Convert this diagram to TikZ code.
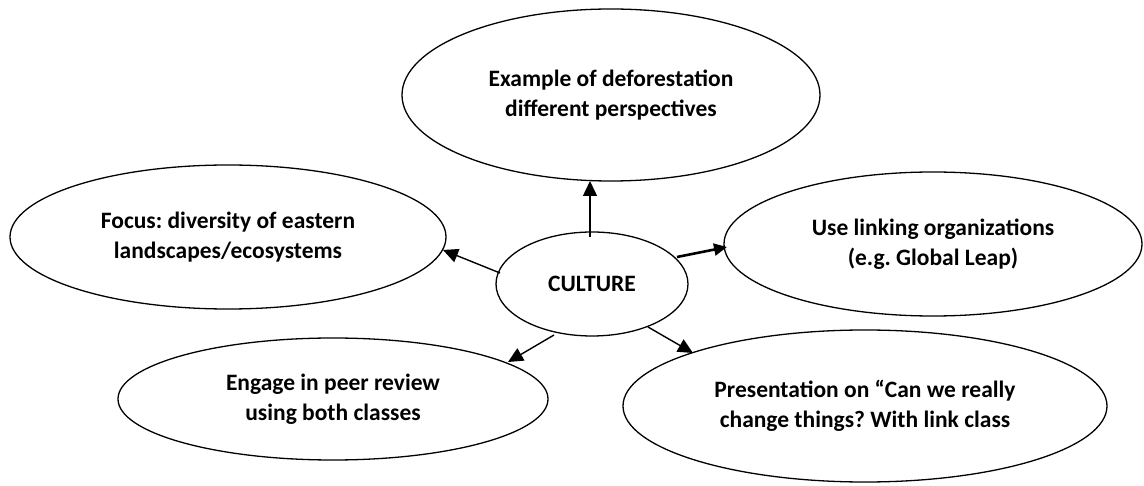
\documentclass[tikz,border=0pt]{standalone}
\usepackage{fontspec}
\setmainfont{Carlito}
\usetikzlibrary{arrows.meta,calc,shapes.geometric}
\frenchspacing
\begin{document}
\begin{tikzpicture}[x=1pt,y=1pt,
  bubble/.style={ellipse,draw=black,line width=1.3pt,inner sep=0pt,align=center,
    font=\fontsize{23.5}{29.5}\selectfont\bfseries},
  arr/.style={line width=1.4pt,-{Triangle[length=15pt,width=14pt]}},
  thickarr/.style={line width=2.6pt,-{Triangle[length=13pt,width=12pt]}}]
\fill[white] (0,0) rectangle (1144,485);
\useasboundingbox (0,0) rectangle (1144,485);
\node[bubble,minimum width=418pt,minimum height=172pt] (T) at (611,390) {Example of deforestation\\different perspectives};
\node[bubble,minimum width=436pt,minimum height=144pt] (L) at (228,248) {Focus: diversity of eastern\\landscapes/ecosystems};
\node[bubble,minimum width=192pt,minimum height=104pt] (C) at (592,201) {CULTURE};
\node[bubble,minimum width=418pt,minimum height=144pt] (R) at (933,241) {Use linking organizations\\(e.g. Global Leap)};
\node[bubble,minimum width=430pt,minimum height=122pt] (BL) at (333,86) {Engage in peer review\\using both classes};
\node[bubble,minimum width=484pt,minimum height=152pt] (BR) at (865,79) {Presentation on “Can we really\\change things? With link class};
\draw[arr] ($(C)+(-2,47)$) -- ($(T)+(-21,-86)$);
\draw[arr] ($(C)+(-92,11)$) -- ($(L)+(215,-13)$);
\draw[thickarr] ($(C)+(85,27)$) -- ($(R)+(-206,-3)$);
\draw[arr] ($(C)+(-38,-51)$) -- ($(BL)+(175,37)$);
\draw[arr] ($(C)+(56,-43)$) -- ($(BR)+(-172,53)$);
\end{tikzpicture}
\end{document}
